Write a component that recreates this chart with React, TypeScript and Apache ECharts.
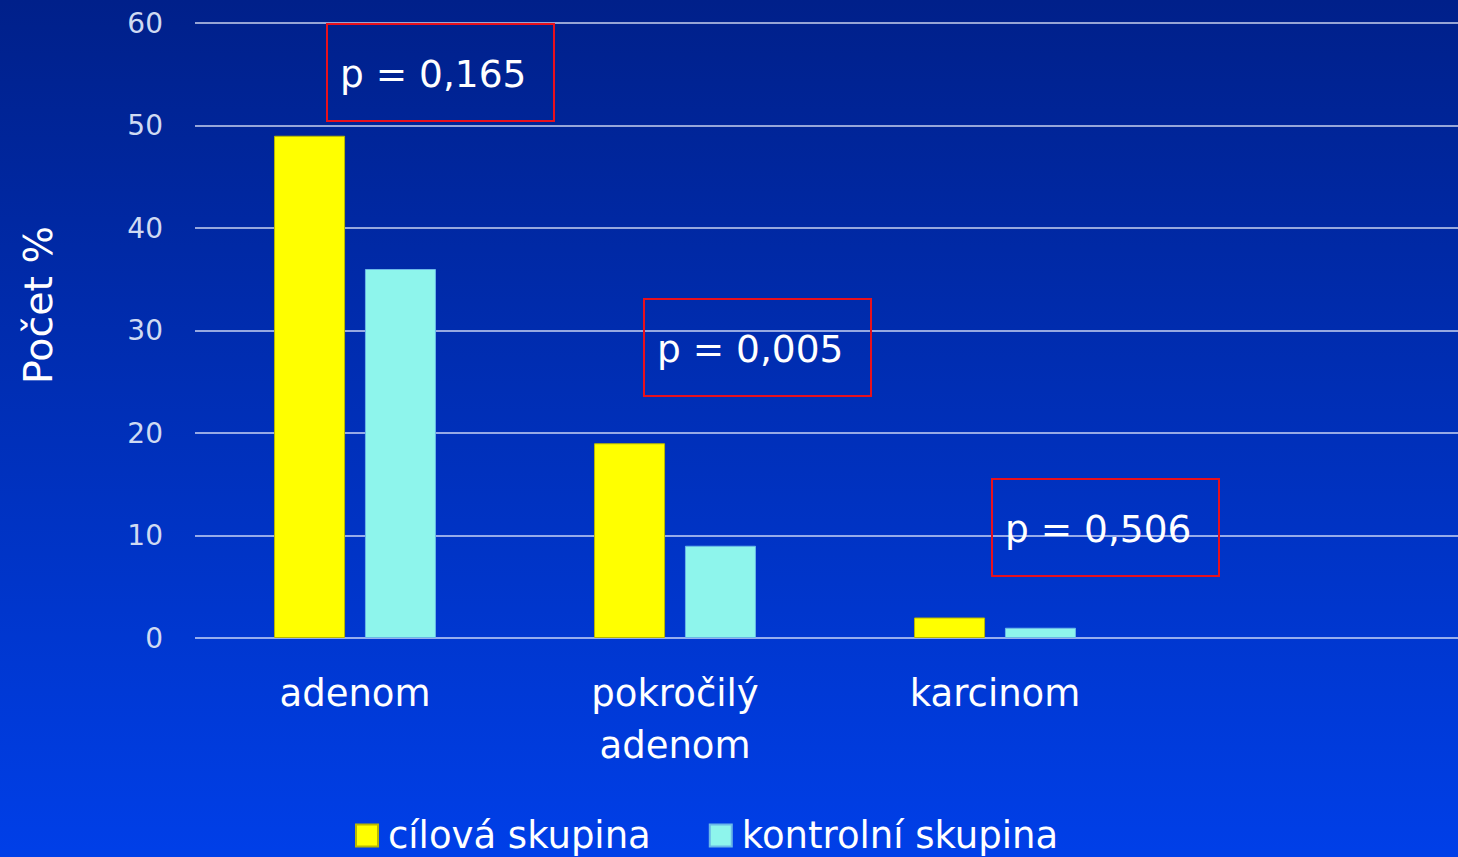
import React, { useEffect, useRef } from "react";
import * as echarts from "echarts";

const categories = ["adenom", "pokročilý\nadenom", "karcinom"];
const targetGroup = [49, 19, 2];
const controlGroup = [36, 9, 1];
const seriesNames = ["cílová skupina", "kontrolní skupina"];
const pValues = ["p = 0,165", "p = 0,005", "p = 0,506"];
const yTicks = { min: 0, max: 60, interval: 10 };

const FONT = "DejaVu Sans, Verdana, sans-serif";

export default function App() {
  const ref = useRef<HTMLDivElement>(null);
  useEffect(() => {
    document.body.style.margin = "0";
    document.body.style.overflow = "hidden";
    const chart = echarts.init(ref.current!, undefined, { renderer: "svg" });
    const boxPos = [
      { x: 326, y: 23 },
      { x: 643, y: 298 },
      { x: 991, y: 478 },
    ];
    const boxes: any[] = [];
    pValues.forEach((p, i) => {
      boxes.push({
        type: "rect",
        left: boxPos[i].x,
        top: boxPos[i].y,
        shape: { width: 227, height: 97 },
        style: { fill: "transparent", stroke: "#e8101c", lineWidth: 2 },
        z: 10,
      });
      boxes.push({
        type: "text",
        x: boxPos[i].x + 14,
        y: boxPos[i].y + 51,
        style: {
          text: p,
          fill: "#ffffff",
          font: `37.5px ${FONT}`,
          textAlign: "left",
          textVerticalAlign: "middle",
        },
        z: 11,
      });
    });
    chart.setOption({
      animation: false,
      backgroundColor: new echarts.graphic.LinearGradient(0, 0, 0, 1, [
        { offset: 0, color: "#00208a" },
        { offset: 1, color: "#003fe8" },
      ]),
      grid: {
        left: 195,
        width: 1280,
        top: 23,
        bottom: 219,
        containLabel: false,
        outerBoundsMode: "none",
      },
      legend: {
        left: 350,
        top: 812,
        itemWidth: 22,
        itemHeight: 22,
        itemGap: 58,
        icon: "rect",
        textStyle: {
          color: "#ffffff",
          fontSize: 37,
          fontFamily: FONT,
          padding: [0, 0, 0, 5],
        },
        data: seriesNames,
      },
      xAxis: {
        type: "category",
        data: categories,
        max: 3,
        axisLine: { show: false },
        axisTick: { show: false },
        axisLabel: {
          color: "#ffffff",
          fontSize: 37,
          fontFamily: FONT,
          lineHeight: 52,
          margin: 29,
          interval: 0,
        },
      },
      yAxis: {
        type: "value",
        min: yTicks.min,
        max: yTicks.max,
        interval: yTicks.interval,
        axisLine: { show: false },
        axisTick: { show: false },
        axisLabel: {
          color: "#cfdaf2",
          fontSize: 28,
          fontFamily: FONT,
          margin: 32,
        },
        splitLine: { lineStyle: { color: "rgba(235,240,255,0.85)", width: 1.5 } },
      },
      series: [
        {
          name: seriesNames[0],
          type: "bar",
          data: targetGroup,
          barWidth: 71,
          barGap: "28%",
          itemStyle: { color: "#ffff00", borderColor: "#b8b800", borderWidth: 1 },
        },
        {
          name: seriesNames[1],
          type: "bar",
          data: controlGroup,
          barWidth: 71,
          itemStyle: { color: "#8ef5ec", borderColor: "#6ab8e8", borderWidth: 1 },
        },
      ],
      graphic: [
        {
          type: "text",
          x: 38,
          y: 305,
          rotation: Math.PI / 2,
          style: {
            text: "Počet %",
            fill: "#ffffff",
            font: `39.5px ${FONT}`,
            textAlign: "center",
            textVerticalAlign: "middle",
          },
        },
        ...boxes,
      ],
    });
    return () => chart.dispose();
  }, []);
  return <div ref={ref} style={{ width: 1458, height: 857 }} />;
}
